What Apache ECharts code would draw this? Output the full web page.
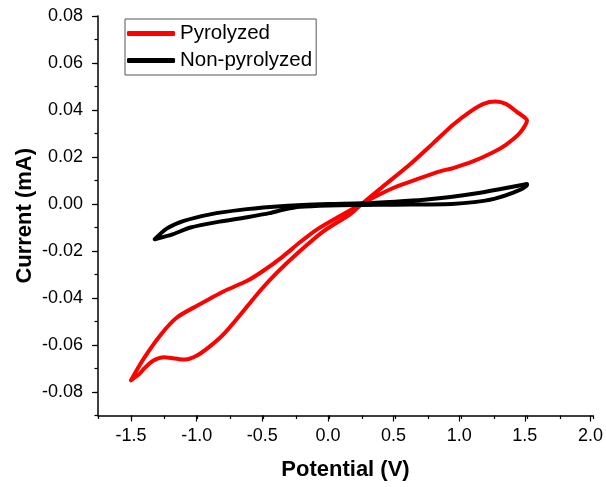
<!DOCTYPE html>
<html>
<head>
<meta charset="utf-8">
<script src="https://cdn.jsdelivr.net/npm/echarts@6/dist/echarts.min.js"></script>
<style>
html,body{margin:0;padding:0;background:#fff;}
#c{width:606px;height:487px;}
</style>
</head>
<body>
<div id="c"></div>
<script>
// Pyrolyzed CV loop (forward sweep then return sweep)
const redV = [-1.5, -1.44, -1.40, -1.33, -1.25, -1.18, -1.09, -1.0, -0.90, -0.80, -0.67, -0.52, -0.40, -0.22, -0.04, 0.16, 0.23, 0.41, 0.61, 0.79, 0.94, 1.07, 1.17, 1.26, 1.34, 1.42, 1.5,
  1.445, 1.34, 1.24, 1.09, 0.94, 0.84, 0.66, 0.49, 0.285, 0.08, -0.09, -0.22, -0.36, -0.50, -0.62, -0.80, -1.0, -1.15, -1.27, -1.405, -1.5];
const redI = [-0.075, -0.0725, -0.0700, -0.0666, -0.0652, -0.0656, -0.0662, -0.0645, -0.0605, -0.0555, -0.0470, -0.0368, -0.0295, -0.0200, -0.0115, -0.0044, -0.0009, 0.0075, 0.0167, 0.0259, 0.0337, 0.0393, 0.0426, 0.0436, 0.0426, 0.0393, 0.0355,
  0.0302, 0.0252, 0.0219, 0.0181, 0.0153, 0.0139, 0.0104, 0.0069, 0.0012, -0.0052, -0.0108, -0.0163, -0.0228, -0.0285, -0.0327, -0.0372, -0.0433, -0.0482, -0.0553, -0.0659, -0.075];
// Non-pyrolyzed CV loop
const blackV = [-1.32, -1.18, -1.05, -0.83, -0.62, -0.45, -0.35, -0.22, 0.0, 0.25, 0.5, 0.75, 0.93, 1.1, 1.25, 1.38, 1.5,
  1.5, 1.3, 1.12, 0.92, 0.72, 0.5, 0.25, 0.0, -0.2, -0.42, -0.67, -0.9, -1.1, -1.23, -1.32];
const blackI = [-0.0150, -0.0128, -0.0100, -0.0075, -0.0056, -0.0039, -0.0025, -0.0012, -0.0006, -0.0004, -0.0003, -0.0002, 0.0000, 0.0008, 0.0022, 0.0045, 0.0080,
  0.0085, 0.0064, 0.0046, 0.0030, 0.0018, 0.0010, 0.0003, 0.0000, -0.0004, -0.0012, -0.0025, -0.0044, -0.0072, -0.0105, -0.0150];
const seriesNames = ['Pyrolyzed', 'Non-pyrolyzed'];
const xTicks = [-1.5, -1.0, -0.5, 0.0, 0.5, 1.0, 1.5, 2.0];
const yTicks = [-0.08, -0.06, -0.04, -0.02, 0.00, 0.02, 0.04, 0.06, 0.08];

const zip = (a, b) => a.map((v, i) => [v, b[i]]);
const FONT = 'Liberation Sans, Arial, sans-serif';

const chart = echarts.init(document.getElementById('c'), null, {renderer: 'canvas'});
chart.setOption({
  animation: false,
  backgroundColor: '#fff',
  textStyle: {fontFamily: FONT},
  grid: [
    {left: 98, right: 13, top: 16, bottom: 71.5},
    {left: 131, right: 13, top: 16, bottom: 95}
  ],
  legend: {
    left: 125, top: 19, orient: 'vertical',
    padding: [4, 4, 4, 2], itemGap: 6, itemWidth: 48, itemHeight: 5,
    borderColor: '#555', borderWidth: 1,
    textStyle: {fontSize: 20.5, color: '#000', fontFamily: FONT},
    data: [{name: seriesNames[0], icon: 'roundRect'}, {name: seriesNames[1], icon: 'roundRect'}]
  },
  xAxis: [
    {
      gridIndex: 0, type: 'value', min: -1.75, max: 2.0, interval: 0.25,
      axisLine: {show: true, onZero: false, lineStyle: {color: '#000', width: 1.5}},
      axisTick: {show: true, length: 3.5, lineStyle: {color: '#000', width: 1.2}},
      axisLabel: {show: false}, splitLine: {show: false},
      name: 'Potential (V)', nameLocation: 'middle', nameGap: 43,
      nameTextStyle: {fontSize: 22, fontWeight: 'bold', color: '#000', fontFamily: FONT}
    },
    {
      gridIndex: 1, type: 'value', min: xTicks[0], max: xTicks[xTicks.length - 1], interval: 0.5,
      offset: 23.5,
      axisLine: {show: false, onZero: false},
      axisTick: {show: true, length: 6, lineStyle: {color: '#000', width: 1.2}},
      axisLabel: {show: true, fontSize: 18, color: '#000', margin: 12, fontFamily: FONT,
        formatter: v => v.toFixed(1)},
      splitLine: {show: false}
    }
  ],
  yAxis: [
    {
      gridIndex: 0, type: 'value', min: -0.09, max: 0.08, interval: 0.01,
      axisLine: {show: true, onZero: false, lineStyle: {color: '#000', width: 1.5}},
      axisTick: {show: true, length: 3.5, lineStyle: {color: '#000', width: 1.2}},
      axisLabel: {show: false}, splitLine: {show: false},
      name: 'Current (mA)', nameLocation: 'middle', nameGap: 62,
      nameTextStyle: {fontSize: 22, fontWeight: 'bold', color: '#000', fontFamily: FONT}
    },
    {
      gridIndex: 1, type: 'value', min: yTicks[0], max: yTicks[yTicks.length - 1], interval: 0.02,
      offset: 33,
      axisLine: {show: false, onZero: false},
      axisTick: {show: true, length: 6, lineStyle: {color: '#000', width: 1.2}},
      axisLabel: {show: true, fontSize: 18, color: '#000', margin: 15, fontFamily: FONT,
        formatter: v => v.toFixed(2)},
      splitLine: {show: false}
    }
  ],
  series: [
    {
      name: seriesNames[0], type: 'line', xAxisIndex: 0, yAxisIndex: 0,
      data: zip(redV, redI), showSymbol: false, symbol: 'none', smooth: 0.25,
      color: '#ff0000', lineStyle: {color: '#ff0000', width: 4, cap: 'round', join: 'round'},
      itemStyle: {color: '#ff0000'}, clip: false
    },
    {
      name: seriesNames[1], type: 'line', xAxisIndex: 0, yAxisIndex: 0,
      data: zip(blackV, blackI), showSymbol: false, symbol: 'none', smooth: 0.25,
      color: '#000000', lineStyle: {color: '#000000', width: 4, cap: 'round', join: 'round'},
      itemStyle: {color: '#000000'}, clip: false
    }
  ]
});
</script>
</body>
</html>
